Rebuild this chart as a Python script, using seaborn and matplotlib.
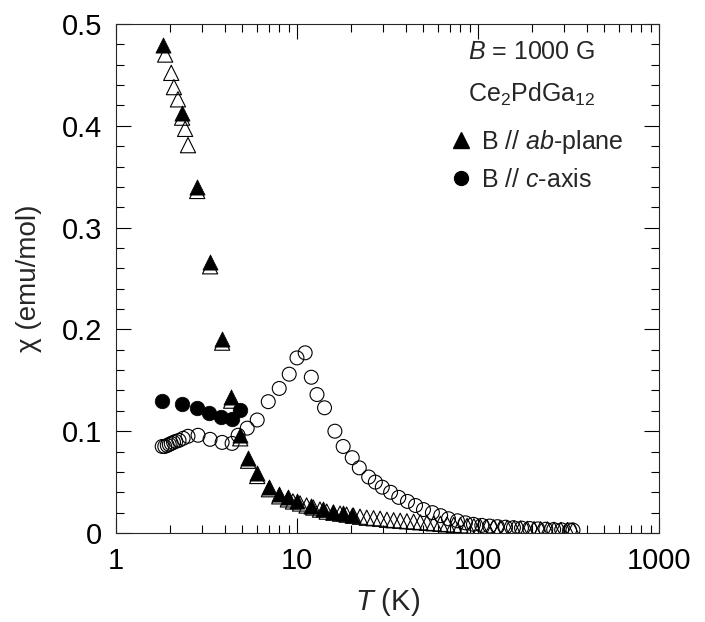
import numpy as np
import pandas as pd
import seaborn as sns
import matplotlib.pyplot as plt
from matplotlib.lines import Line2D
from matplotlib.ticker import MultipleLocator, NullFormatter

# ---- data ----
# B // ab-plane, filled triangles
ab_fill_T = [1.82, 2.32, 2.81, 3.31, 3.86, 4.33, 4.86, 5.37, 6.03, 7.0, 7.98, 8.9,
             10.0, 12.0, 13.9, 15.9, 18.0, 20.2]
ab_fill_chi = [0.479, 0.413, 0.340, 0.266, 0.191, 0.134, 0.096, 0.074, 0.059, 0.045,
               0.038, 0.035, 0.031, 0.027, 0.024, 0.021, 0.0195, 0.0177]

# B // ab-plane, open triangles
ab_open_T = [1.87, 2.02, 2.09, 2.20, 2.32, 2.41, 2.50, 2.81, 3.31, 3.86, 4.33, 4.86,
             5.37, 6.03, 7.0, 7.98, 8.9,
             9.5, 10.4, 11.3, 12.3, 13.4, 14.6, 15.9, 17.3, 18.8, 20.5, 22.3, 24.3,
             26.5, 28.8, 31.4, 34.2, 37.2, 40.5, 44.1, 48.0, 52.3, 57.0, 62.0, 67.5,
             73.5, 80.0, 87.1, 94.9, 103, 112, 122, 133, 145, 158, 172, 187, 204,
             222, 242, 263, 287, 312, 335]
ab_open_chi = [0.470, 0.452, 0.438, 0.426, 0.408, 0.397, 0.381, 0.336, 0.262, 0.187,
               0.130, 0.093, 0.071, 0.056, 0.043, 0.036, 0.033,
               0.031, 0.029, 0.027, 0.025, 0.023, 0.021, 0.020, 0.019, 0.018, 0.017,
               0.016, 0.015, 0.0145, 0.014, 0.013, 0.0125, 0.012, 0.0115, 0.011,
               0.0105, 0.010, 0.0095, 0.009, 0.0085, 0.008, 0.0075, 0.007, 0.0066,
               0.0062, 0.0058, 0.0055, 0.0052, 0.0049, 0.0046, 0.0043, 0.0041,
               0.0038, 0.0036, 0.0034, 0.0032, 0.0030, 0.0029, 0.0027]

# B // c-axis, filled circles
c_fill_T = [1.80, 2.32, 2.81, 3.27, 3.81, 4.39, 4.86]
c_fill_chi = [0.130, 0.127, 0.123, 0.118, 0.114, 0.112, 0.121]

# B // c-axis, open circles
c_open_T = [1.80, 1.86, 1.92, 1.97, 2.02, 2.08, 2.14, 2.23, 2.35, 2.50, 2.84, 3.31,
            3.86, 4.38, 4.73, 5.31, 6.03, 6.94, 7.98, 9.06, 10.0, 11.1, 12.0, 12.9,
            14.2, 16.2, 18.0, 20.2, 22.1, 24.9, 27.1, 29.6, 32.9, 36.5, 40.8, 45.2,
            50.0, 56.0, 62.2, 68.7, 77.0, 85.2, 94.4, 105, 116, 128, 142, 157, 174,
            193, 214, 237, 262, 290, 321, 335]
c_open_chi = [0.085, 0.085, 0.086, 0.087, 0.088, 0.089, 0.090, 0.091, 0.093, 0.095,
              0.096, 0.092, 0.089, 0.088, 0.096, 0.103, 0.111, 0.129, 0.142, 0.156,
              0.172, 0.177, 0.153, 0.136, 0.123, 0.100, 0.085, 0.074, 0.064, 0.055,
              0.050, 0.045, 0.040, 0.035, 0.031, 0.027, 0.023, 0.020, 0.017, 0.014,
              0.012, 0.010, 0.0085, 0.0075, 0.0068, 0.0062, 0.0057, 0.0052, 0.0048,
              0.0044, 0.0040, 0.0037, 0.0034, 0.0031, 0.0029, 0.0028]

x_ticks = [1, 10, 100, 1000]
x_ticklabels = ['1', '10', '100', '1000']
y_ticks = [0, 0.1, 0.2, 0.3, 0.4, 0.5]
y_ticklabels = ['0', '0.1', '0.2', '0.3', '0.4', '0.5']

# ---- style ----
sns.set_style('ticks')
plt.rcParams['font.family'] = ['Liberation Sans', 'DejaVu Sans']
plt.rcParams['mathtext.fontset'] = 'custom'
plt.rcParams['mathtext.rm'] = 'Liberation Sans'
plt.rcParams['mathtext.it'] = 'Liberation Sans:italic'
plt.rcParams['axes.linewidth'] = 0.8

fig = plt.figure(figsize=(7.05, 6.22), dpi=100)
ax = fig.add_axes([0.1645, 0.1431, 0.7702, 0.8183])

# open symbols first, filled ones on top
sns.scatterplot(x=c_open_T, y=c_open_chi, marker='o', s=100, facecolors='none',
                edgecolor='black', linewidth=0.8, ax=ax, zorder=3)
sns.scatterplot(x=ab_open_T, y=ab_open_chi, marker='^', s=120, facecolors='none',
                edgecolor='black', linewidth=0.8, ax=ax, zorder=3)
sns.scatterplot(x=c_fill_T, y=c_fill_chi, marker='o', s=110, color='black',
                edgecolor='black', linewidth=0.5, ax=ax, zorder=4)
sns.scatterplot(x=ab_fill_T, y=ab_fill_chi, marker='^', s=120, color='black',
                edgecolor='black', linewidth=0.5, ax=ax, zorder=4)

ax.set_xscale('log')
ax.set_xlim(1, 1000)
ax.set_ylim(0, 0.5)
ax.set_xticks(x_ticks, labels=x_ticklabels)
ax.xaxis.set_minor_formatter(NullFormatter())
ax.set_yticks(y_ticks, labels=y_ticklabels)
ax.yaxis.set_minor_locator(MultipleLocator(0.02))

ax.tick_params(which='both', direction='in', top=True, right=True,
               colors='black', labelsize=21, pad=10)
ax.tick_params(which='major', length=10.5, width=0.8)
ax.tick_params(which='minor', length=6, width=0.8)

ax.set_xlabel('$T$ (K)', fontsize=21, labelpad=8)
ax.set_ylabel('χ (emu/mol)', fontsize=20, labelpad=14)

# annotations in the upper right
ax.text(0.766, 0.931, '$B$ = 1000 G', transform=ax.transAxes, ha='center',
        va='baseline', fontsize=18)
ax.text(0.766, 0.847, 'Ce$_2$PdGa$_{12}$', transform=ax.transAxes, ha='center',
        va='baseline', fontsize=18)

handles = [Line2D([], [], marker='^', color='black', linestyle='none', markersize=12),
           Line2D([], [], marker='o', color='black', linestyle='none', markersize=10)]
labels = ['B $\\mathit{//}$ $\\mathit{ab}$-plane', 'B $\\mathit{//}$ $\\mathit{c}$-axis']
ax.legend(handles, labels, loc='upper left', bbox_to_anchor=(0.6, 0.815),
          frameon=False, fontsize=18, handlelength=0.7, handletextpad=0.45,
          labelspacing=0.48, borderaxespad=0)

fig.savefig('out.png', dpi=100)
